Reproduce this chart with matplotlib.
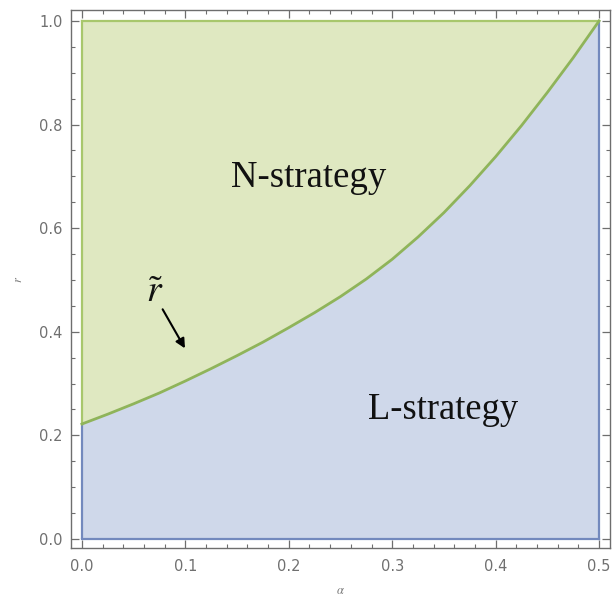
import numpy as np
import matplotlib
matplotlib.use("Agg")
import matplotlib.pyplot as plt
from matplotlib.ticker import MultipleLocator

# Data: threshold curve r~(alpha)
alpha = [0.0, 0.025, 0.05, 0.075, 0.1, 0.125, 0.15, 0.175, 0.2, 0.225, 0.25,
         0.275, 0.3, 0.325, 0.35, 0.375, 0.4, 0.425, 0.45, 0.475, 0.5]
r_tilde = [0.222, 0.241, 0.261, 0.282, 0.305, 0.329, 0.354, 0.380, 0.408, 0.437, 0.468,
           0.502, 0.540, 0.583, 0.630, 0.682, 0.738, 0.798, 0.862, 0.929, 1.0]
x_ticks = [0.0, 0.1, 0.2, 0.3, 0.4, 0.5]
y_ticks = [0.0, 0.2, 0.4, 0.6, 0.8, 1.0]
region_labels = ["N-strategy", "L-strategy"]

a = np.array(alpha)
rt = np.array(r_tilde)

plt.rcParams["mathtext.fontset"] = "stix"
fig = plt.figure(figsize=(6.14, 6.01), dpi=100)
ax = fig.add_axes([71/614, (601-548)/601, 539/614, 538/601])

green_fill = "#dfe8c1"
blue_fill = "#cfd8ea"
green_line = "#8fb45a"
blue_line = "#7389bd"

ax.fill_between(a, rt, 1.0, color=green_fill, lw=0, zorder=1)
ax.fill_between(a, 0.0, rt, color=blue_fill, lw=0, zorder=1)

# blue region boundary
ax.plot([a[0], a[0]], [0, rt[0]], color=blue_line, lw=1.6, zorder=2, solid_capstyle="butt")
ax.plot([a[0], a[-1]], [0, 0], color=blue_line, lw=1.6, zorder=2)
ax.plot([a[-1], a[-1]], [0, rt[-1]], color=blue_line, lw=1.6, zorder=2)
# green region boundary
ax.plot([a[0], a[0]], [rt[0], 1.0], color="#a8c76c", lw=1.6, zorder=2)
ax.plot([a[0], a[-1]], [1.0, 1.0], color="#a8c76c", lw=1.6, zorder=2)
# threshold curve
ax.plot(a, rt, color=green_line, lw=2.0, zorder=3, solid_joinstyle="round")

ax.set_xlim(-0.0106, 0.5106)
ax.set_ylim(-0.0174, 1.0212)

ax.set_xticks(x_ticks)
ax.set_yticks(y_ticks)
ax.set_xticklabels([f"{v:.1f}" for v in x_ticks])
ax.set_yticklabels([f"{v:.1f}" for v in y_ticks])
ax.xaxis.set_minor_locator(MultipleLocator(0.02))
ax.yaxis.set_minor_locator(MultipleLocator(0.05))

frame_col = "#6e6e6e"
for s in ax.spines.values():
    s.set_color(frame_col)
    s.set_linewidth(1.0)
ax.tick_params(which="both", direction="in", top=True, right=True,
               color=frame_col, labelcolor="#707070", labelsize=10.5)
ax.tick_params(which="major", length=5.5, width=0.9)
ax.tick_params(which="minor", length=3, width=0.8)
ax.tick_params(axis="x", which="major", pad=8)
ax.tick_params(axis="y", which="major", pad=6)

ax.set_xlabel(r"$\alpha$", color="#777777", fontsize=9, labelpad=7)
ax.set_ylabel(r"$r$", color="#777777", fontsize=9, labelpad=10)

ax.text(0.219, 0.6795, region_labels[0], fontsize=26.5, family="Liberation Serif",
        ha="center", va="baseline", color="#111111", zorder=5)
ax.text(0.3487, 0.2317, region_labels[1], fontsize=26.3, family="Liberation Serif",
        ha="center", va="baseline", color="#111111", zorder=5)

ax.text(0.0706, 0.4575, r"$\tilde{r}$", fontsize=27, ha="center", va="baseline",
        color="#111111", zorder=5)
ax.annotate("", xy=(0.0996, 0.368), xytext=(0.078, 0.4434),
            arrowprops=dict(arrowstyle="-|>", color="black", lw=1.5,
                            mutation_scale=14, shrinkA=0, shrinkB=0), zorder=5)

fig.savefig("out.png", dpi=100)
